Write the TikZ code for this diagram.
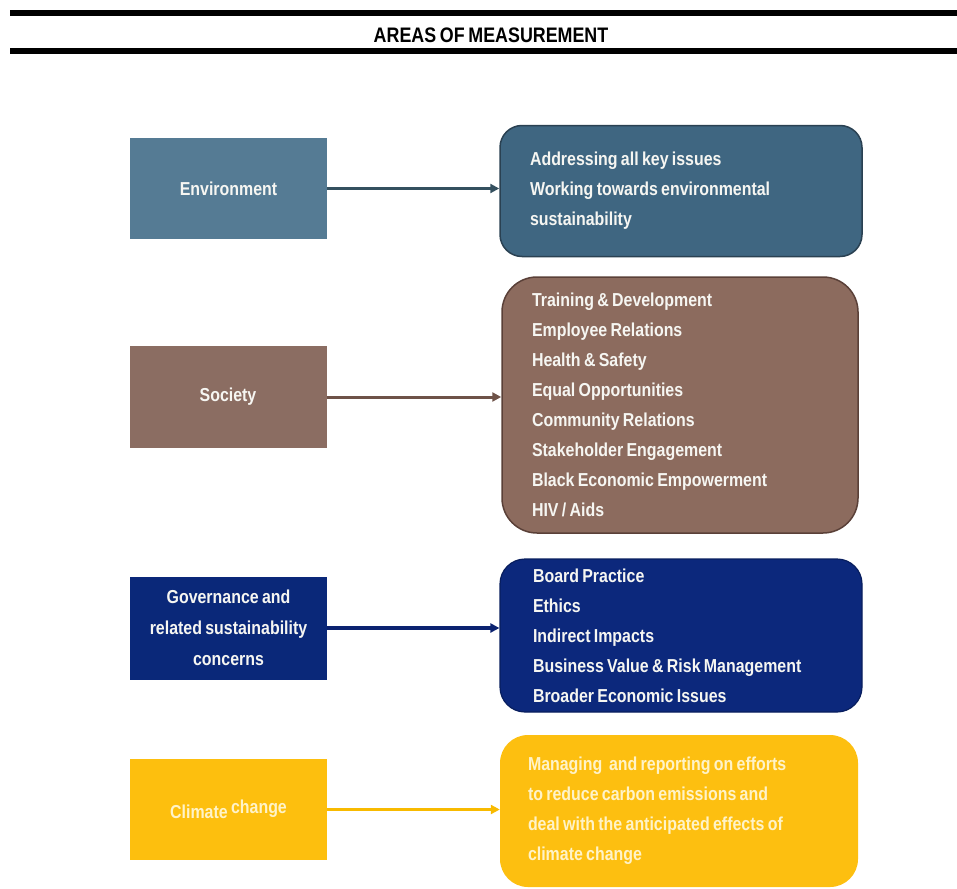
\documentclass[tikz,border=0pt]{standalone}
\usepackage{fontspec}
\setmainfont{Liberation Sans}[FakeStretch=0.85, WordSpace=0.75]
\usetikzlibrary{arrows.meta}

\definecolor{envL}{HTML}{557B94}
\definecolor{envR}{HTML}{3F6681}
\definecolor{envE}{HTML}{2A4152}
\definecolor{envA}{HTML}{34505F}
\definecolor{socL}{HTML}{8B6D62}
\definecolor{socR}{HTML}{8C6B5E}
\definecolor{socE}{HTML}{5A4038}
\definecolor{socA}{HTML}{6E5248}
\definecolor{govL}{HTML}{0A2879}
\definecolor{govR}{HTML}{0C287C}
\definecolor{govE}{HTML}{081E5E}
\definecolor{govA}{HTML}{0B2270}
\definecolor{cliL}{HTML}{FDBF0E}
\definecolor{cliR}{HTML}{FDBF10}
\definecolor{cliA}{HTML}{F8BA00}
\definecolor{txt}{HTML}{F6F6F2}
\definecolor{clitxt}{HTML}{FFF3C8}

\tikzset{
  areabox/.style={rectangle, draw=none, inner sep=0pt, text=txt, align=center,
    minimum width=197pt, font=\fontsize{18.75}{31}\selectfont\bfseries},
  listbox/.style={rectangle, rounded corners=#1, inner ysep=0pt, inner xsep=30pt,
    text=txt, align=flush left, font=\fontsize{18.75}{30}\selectfont\bfseries},
  linkarrow/.style={-{Triangle[length=9pt,width=9pt]}, shorten >=0pt},
  rule/.style={line width=6pt, black}
}

\begin{document}
\begin{tikzpicture}[x=1pt, y=-1pt]
  \useasboundingbox (0,0) rectangle (957,888);

  % heading between two heavy rules
  \draw[rule] (10,13) -- (957,13);
  \draw[rule] (10,51) -- (957,51);
  \node (title) at (491,35) {\fontsize{21}{24}\selectfont\bfseries AREAS OF MEASUREMENT};

  % Environment
  \node[areabox, fill=envL, minimum height=101pt] (env) at (228.5,188.5) {Environment};
  \node[listbox=22pt, fill=envR, draw=envE, line width=1.5pt,
        text width=302pt, minimum height=131pt] (envlist) at (681,191)
    {Addressing all key issues\\Working towards environmental\\sustainability};
  \draw[linkarrow, envA, line width=2.2pt] (env.east) -- (env.east -| envlist.west);

  % Society
  \node[areabox, fill=socL, minimum height=102pt] (soc) at (228,397) {Society};
  \node[listbox=35pt, fill=socR, draw=socE, line width=1.5pt,
        text width=296pt, minimum height=256pt] (soclist) at (680,405)
    {Training \& Development\\Employee Relations\\Health \& Safety\\Equal Opportunities\\
     Community Relations\\Stakeholder Engagement\\Black Economic Empowerment\\HIV / Aids};
  \draw[linkarrow, socA, line width=3pt] (soc.east) -- (soc.east -| soclist.west);

  % Governance
  \node[areabox, fill=govL, minimum height=103pt] (gov) at (228.5,628)
    {Governance and\\related sustainability\\concerns};
  \node[listbox=25pt, fill=govR, draw=govE, line width=1.2pt, inner xsep=33pt,
        text width=296pt, minimum height=153pt] (govlist) at (681,635.5)
    {Board Practice\\Ethics\\Indirect Impacts\\Business Value \& Risk Management\\Broader Economic Issues};
  \draw[linkarrow, govA, line width=3.5pt] (gov.east) -- (gov.east -| govlist.west);

  % Climate change
  \node[areabox, fill=cliL, text=clitxt, minimum height=101pt] (cli) at (228.5,809.5)
    {Climate \raisebox{5pt}{change}};
  \node[listbox=28pt, fill=cliR, draw=none, text=clitxt, inner xsep=28pt,
        text width=302pt, minimum height=152pt] (clilist) at (679,811)
    {Managing\ \ and reporting on efforts\\to reduce carbon emissions and\\
     deal with the anticipated effects of\\climate change};
  \draw[linkarrow, cliA, line width=3pt] (cli.east) -- (cli.east -| clilist.west);
\end{tikzpicture}
\end{document}
